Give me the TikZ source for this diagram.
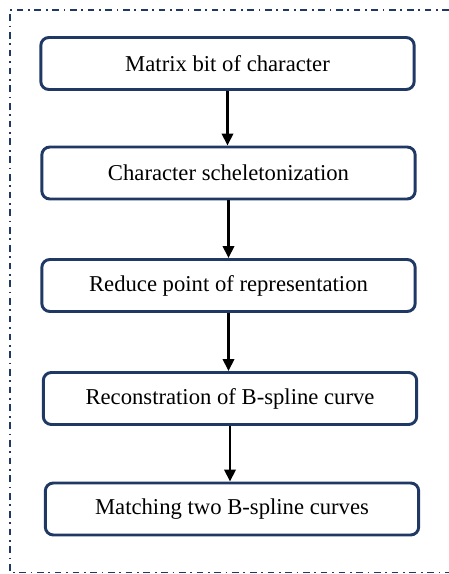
\documentclass[tikz,border=0pt]{standalone}
\usepackage{fontspec}
\setmainfont{Liberation Serif}
\usetikzlibrary{positioning,calc}
\usetikzlibrary{arrows.meta}
\definecolor{BoxNavy}{RGB}{31,56,100}
\tikzset{
  stage/.style={draw=BoxNavy,fill=white,line width=2.2pt,rounded corners=6pt,
    minimum width=280pt,minimum height=39pt,inner sep=0pt,align=center,
    font=\fontsize{17}{20}\selectfont},
  flow/.style={draw=black,line width=1.9pt,-{Triangle[length=9pt,width=8.5pt]}},
  frame/.style={draw=BoxNavy,line width=1.3pt,
    dash pattern=on 5pt off 3.5pt on 1.3pt off 3.5pt},
}

\begin{document}
\begin{tikzpicture}[x=0.75pt,y=-0.75pt]
\useasboundingbox (0,0) rectangle (449,574);
% dash-dot frame, open on the right
\draw[frame] (449,10) -- (10,10) -- (10,572.5) -- (449,572.5);
\node[stage] (matrix) at (227.5,63.5) {Matrix bit of character};
\node[stage] (skel) at (228.5,173) {Character scheletonization};
\node[stage] (reduce) at (228.5,285.5) {Reduce point of representation};
\node[stage] (recon) at (230,398.5) {Reconstration of B-spline curve};
\node[stage] (match) at (232,509) {Matching two B-spline curves};
\draw[flow] (matrix.south) -- (matrix.south |- skel.north);
\draw[flow] (skel.south) -- (skel.south |- reduce.north);
\draw[flow] (reduce.south) -- (reduce.south |- recon.north);
\draw[flow] (recon.south) -- (recon.south |- match.north);
\end{tikzpicture}
\end{document}
